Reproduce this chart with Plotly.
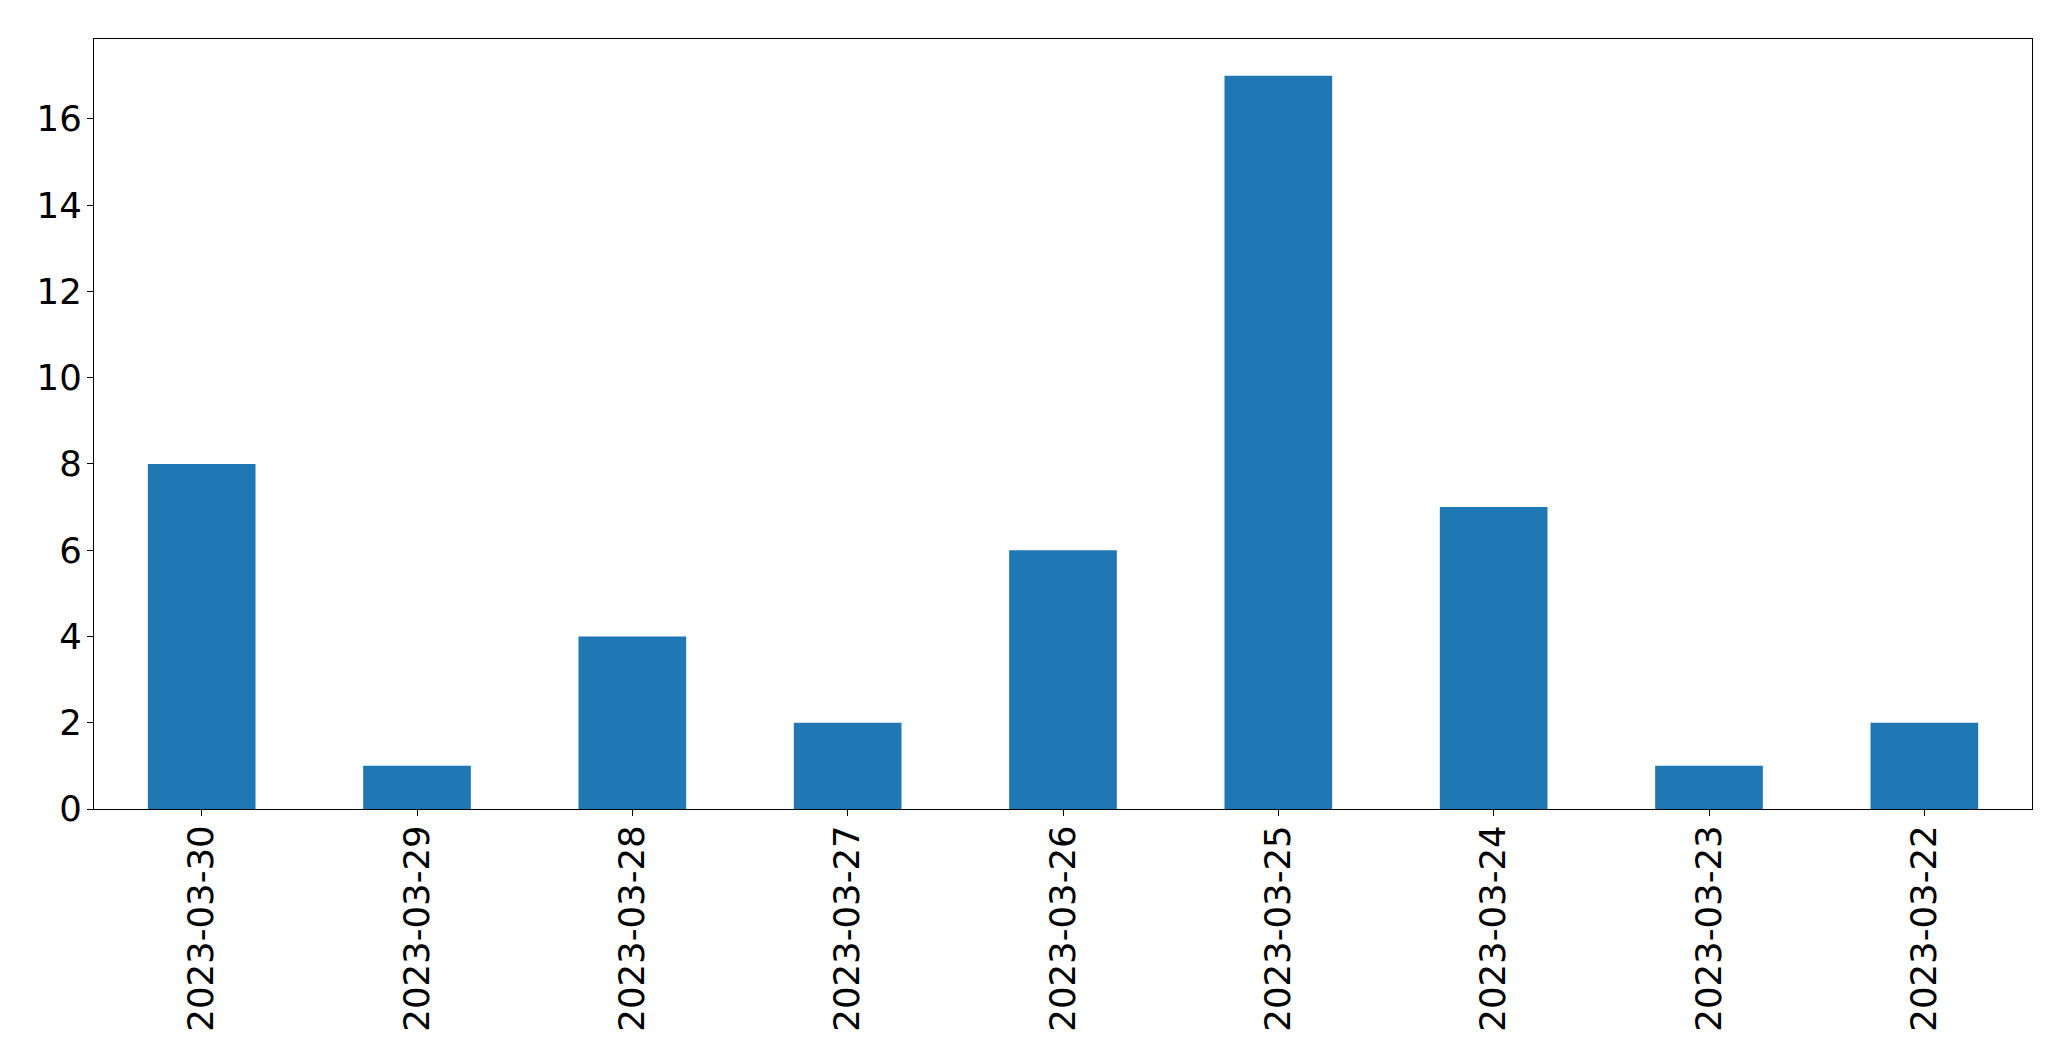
import plotly.graph_objects as go

categories = ["2023-03-30", "2023-03-29", "2023-03-28", "2023-03-27", "2023-03-26",
              "2023-03-25", "2023-03-24", "2023-03-23", "2023-03-22"]
counts = [8, 1, 4, 2, 6, 17, 7, 1, 2]
y_ticks = [0, 2, 4, 6, 8, 10, 12, 14, 16]

fig = go.Figure(go.Bar(x=categories, y=counts, marker_color="#1f77b4",
                       marker_line_width=0, width=0.5))

# the page body adds an 8px offset, so margins are reduced by 8px
font = dict(family="DejaVu Sans", size=35.5, color="black")
fig.update_layout(
    width=2055, height=1045,
    margin=dict(l=86, r=31, t=31, b=244),
    paper_bgcolor="white", plot_bgcolor="white",
    showlegend=False,
    font=font,
)
fig.update_xaxes(type="category", range=[-0.5, 8.5], tickangle=-90, automargin=False,
                 showline=True, mirror=True, linecolor="black", linewidth=1.3,
                 ticks="outside", ticklen=6, tickcolor="black", tickwidth=1.3,
                 ticklabelstandoff=-5,
                 showgrid=False, zeroline=False, tickfont=font)
fig.update_yaxes(range=[0, 17.85], tickvals=y_ticks, automargin=False,
                 showline=True, mirror=True, linecolor="black", linewidth=1.3,
                 ticks="outside", ticklen=6, tickcolor="black", tickwidth=1.3,
                 ticklabelstandoff=-2,
                 showgrid=False, zeroline=False, tickfont=font)

fig.write_html("out.html")
